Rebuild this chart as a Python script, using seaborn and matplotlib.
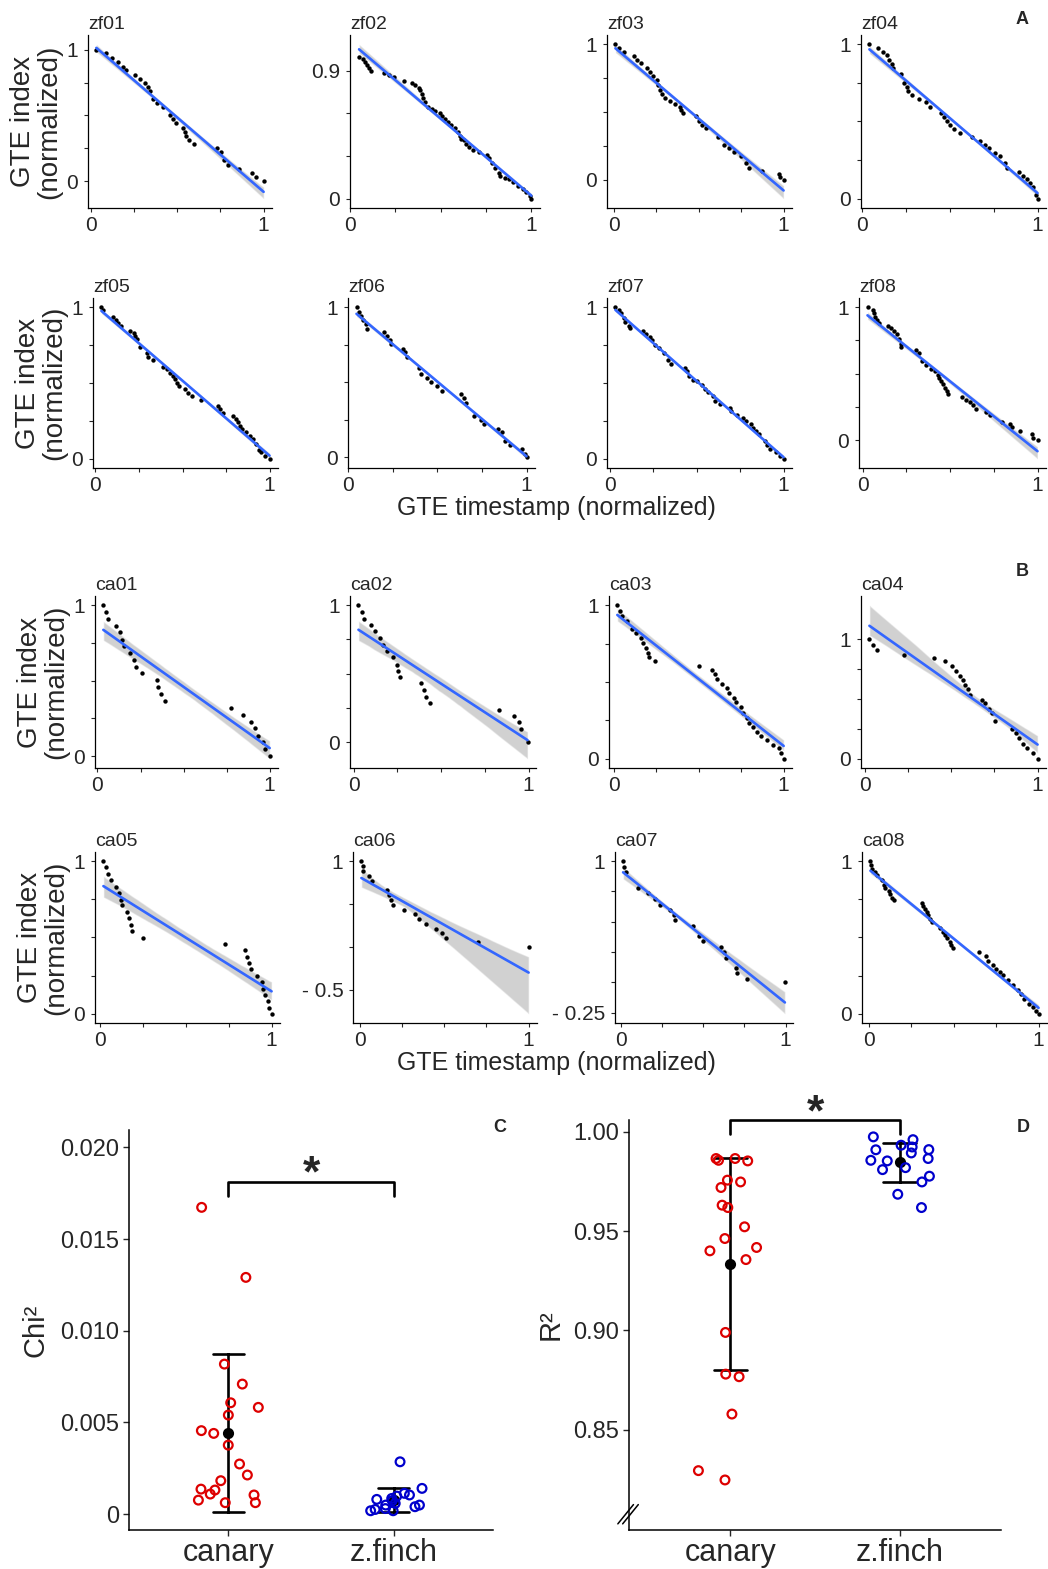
import numpy as np
import pandas as pd
import matplotlib
matplotlib.use("Agg")
import matplotlib.pyplot as plt
import seaborn as sns
from matplotlib.collections import PolyCollection

# ---- A: zebra finch songs, GTE timestamp vs GTE index (normalized) ----
zf01_x = [0.032, 0.086, 0.12, 0.156, 0.187, 0.204, 0.257, 0.282, 0.314, 0.333, 0.343, 0.358, 0.381, 0.419, 0.457,
          0.476, 0.491, 0.533, 0.543, 0.552, 0.568, 0.596, 0.728, 0.752, 0.771, 0.796, 0.857, 0.93, 0.956, 1.0]
zf01_y = [1.0, 0.971, 0.934, 0.904, 0.872, 0.843, 0.811, 0.779, 0.749, 0.72, 0.688, 0.627, 0.597, 0.565, 0.504,
          0.474, 0.442, 0.405, 0.373, 0.344, 0.312, 0.283, 0.253, 0.221, 0.16, 0.123, 0.091, 0.061, 0.032, 0.0]
zf02_x = [0.05, 0.072, 0.081, 0.094, 0.105, 0.117, 0.189, 0.216, 0.243, 0.297, 0.342, 0.36, 0.378, 0.387, 0.396,
          0.405, 0.414, 0.432, 0.45, 0.468, 0.495, 0.508, 0.523, 0.541, 0.559, 0.577, 0.595, 0.604, 0.613, 0.627,
          0.64, 0.658, 0.676, 0.712, 0.757, 0.766, 0.784, 0.802, 0.82, 0.829, 0.856, 0.874, 0.901, 0.928, 0.955,
          0.973, 0.991, 1.0]
zf02_y = [1.0, 0.984, 0.961, 0.939, 0.92, 0.9, 0.884, 0.87, 0.854, 0.827, 0.813, 0.797, 0.779, 0.763, 0.74,
          0.706, 0.683, 0.649, 0.633, 0.62, 0.604, 0.581, 0.558, 0.542, 0.519, 0.501, 0.467, 0.444, 0.421, 0.41,
          0.387, 0.364, 0.346, 0.33, 0.308, 0.285, 0.251, 0.216, 0.178, 0.159, 0.148, 0.137, 0.118, 0.091, 0.068,
          0.046, 0.018, 0.0]
zf03_x = [0.01, 0.029, 0.058, 0.117, 0.136, 0.159, 0.198, 0.214, 0.233, 0.252, 0.262, 0.272, 0.282, 0.301, 0.33,
          0.359, 0.388, 0.398, 0.408, 0.485, 0.501, 0.52, 0.544, 0.612, 0.65, 0.68, 0.709, 0.748, 0.777, 0.796,
          0.874, 0.971, 0.981, 1.0]
zf03_y = [1.0, 0.976, 0.941, 0.91, 0.887, 0.863, 0.823, 0.799, 0.768, 0.74, 0.697, 0.664, 0.634, 0.603, 0.579,
          0.556, 0.539, 0.515, 0.492, 0.468, 0.433, 0.404, 0.381, 0.314, 0.255, 0.232, 0.208, 0.173, 0.125, 0.09,
          0.066, 0.043, 0.019, 0.0]
zf04_x = [0.042, 0.092, 0.117, 0.142, 0.155, 0.168, 0.179, 0.221, 0.24, 0.255, 0.262, 0.287, 0.325, 0.362, 0.387,
          0.447, 0.466, 0.485, 0.5, 0.523, 0.56, 0.626, 0.674, 0.698, 0.726, 0.755, 0.787, 0.815, 0.825, 0.896,
          0.915, 0.938, 0.957, 0.975, 0.989, 1.0]
zf04_y = [1.0, 0.975, 0.949, 0.928, 0.9, 0.873, 0.847, 0.805, 0.752, 0.725, 0.699, 0.672, 0.646, 0.625, 0.597,
          0.555, 0.53, 0.504, 0.477, 0.449, 0.424, 0.398, 0.371, 0.345, 0.328, 0.297, 0.275, 0.233, 0.201, 0.174,
          0.148, 0.127, 0.102, 0.074, 0.021, 0.0]
zf05_x = [0.034, 0.044, 0.101, 0.118, 0.128, 0.147, 0.196, 0.219, 0.229, 0.238, 0.257, 0.295, 0.299, 0.328, 0.39,
          0.41, 0.429, 0.444, 0.457, 0.467, 0.482, 0.514, 0.533, 0.552, 0.606, 0.701, 0.714, 0.733, 0.79, 0.806,
          0.819, 0.829, 0.844, 0.867, 0.89, 0.905, 0.924, 0.939, 0.952, 0.971, 1.0]
zf05_y = [1.0, 0.983, 0.936, 0.915, 0.898, 0.877, 0.845, 0.83, 0.809, 0.791, 0.738, 0.696, 0.674, 0.653, 0.604,
          0.589, 0.568, 0.547, 0.526, 0.498, 0.477, 0.462, 0.434, 0.413, 0.391, 0.349, 0.328, 0.302, 0.285, 0.264,
          0.243, 0.217, 0.196, 0.174, 0.153, 0.132, 0.1, 0.057, 0.043, 0.021, 0.0]
zf06_x = [0.046, 0.061, 0.07, 0.08, 0.099, 0.103, 0.198, 0.217, 0.236, 0.242, 0.305, 0.318, 0.331, 0.394, 0.408,
          0.442, 0.465, 0.495, 0.528, 0.632, 0.651, 0.661, 0.705, 0.747, 0.762, 0.842, 0.861, 0.88, 0.909, 0.975,
          0.99, 1.0]
zf06_y = [1.0, 0.968, 0.942, 0.914, 0.886, 0.855, 0.832, 0.806, 0.778, 0.752, 0.719, 0.698, 0.665, 0.594, 0.551,
          0.525, 0.499, 0.471, 0.443, 0.417, 0.391, 0.363, 0.276, 0.248, 0.222, 0.19, 0.168, 0.11, 0.082, 0.054,
          0.02, 0.0]
zf07_x = [0.032, 0.052, 0.065, 0.08, 0.09, 0.109, 0.115, 0.191, 0.21, 0.233, 0.242, 0.261, 0.281, 0.309, 0.332,
          0.351, 0.433, 0.443, 0.458, 0.481, 0.5, 0.529, 0.548, 0.567, 0.595, 0.605, 0.634, 0.691, 0.7, 0.729,
          0.767, 0.782, 0.815, 0.824, 0.84, 0.859, 0.891, 0.905, 0.92, 0.958, 0.977, 1.0]
zf07_y = [1.0, 0.983, 0.962, 0.93, 0.902, 0.877, 0.864, 0.845, 0.823, 0.802, 0.781, 0.753, 0.732, 0.696, 0.653,
          0.626, 0.6, 0.579, 0.547, 0.519, 0.511, 0.489, 0.462, 0.44, 0.413, 0.383, 0.362, 0.334, 0.313, 0.291,
          0.27, 0.249, 0.228, 0.206, 0.185, 0.164, 0.115, 0.089, 0.064, 0.047, 0.021, 0.0]
zf08_x = [0.027, 0.058, 0.066, 0.071, 0.081, 0.09, 0.143, 0.162, 0.181, 0.193, 0.206, 0.216, 0.22, 0.303, 0.322,
          0.341, 0.36, 0.389, 0.412, 0.428, 0.437, 0.447, 0.457, 0.47, 0.482, 0.489, 0.566, 0.592, 0.611, 0.63,
          0.649, 0.707, 0.726, 0.798, 0.842, 0.855, 0.9, 0.967, 0.977, 1.0]
zf08_y = [1.0, 0.976, 0.953, 0.929, 0.9, 0.877, 0.858, 0.841, 0.818, 0.794, 0.763, 0.723, 0.699, 0.675, 0.652,
          0.597, 0.564, 0.533, 0.517, 0.493, 0.469, 0.445, 0.422, 0.391, 0.367, 0.344, 0.327, 0.303, 0.284, 0.261,
          0.232, 0.209, 0.185, 0.137, 0.118, 0.095, 0.071, 0.047, 0.019, 0.0]

# ---- B: canary songs ----
ca01_x = [0.034, 0.048, 0.061, 0.11, 0.128, 0.143, 0.152, 0.19, 0.21, 0.225, 0.257, 0.343, 0.352, 0.371, 0.394,
          0.777, 0.844, 0.891, 0.914, 0.93, 0.962, 0.971, 1.0]
ca01_y = [1.0, 0.952, 0.909, 0.865, 0.82, 0.772, 0.728, 0.685, 0.637, 0.591, 0.548, 0.504, 0.457, 0.409, 0.365,
          0.322, 0.276, 0.228, 0.185, 0.137, 0.091, 0.048, 0.0]
ca02_x = [0.028, 0.047, 0.061, 0.097, 0.124, 0.152, 0.171, 0.193, 0.227, 0.246, 0.254, 0.268, 0.384, 0.401, 0.414,
          0.434, 0.829, 0.917, 0.948, 0.959, 0.994]
ca02_y = [1.0, 0.954, 0.897, 0.857, 0.809, 0.759, 0.713, 0.667, 0.621, 0.563, 0.517, 0.476, 0.43, 0.379, 0.333,
          0.287, 0.237, 0.191, 0.145, 0.097, 0.0]
ca03_x = [0.02, 0.034, 0.048, 0.076, 0.104, 0.132, 0.16, 0.174, 0.188, 0.202, 0.207, 0.244, 0.504, 0.58, 0.594,
          0.608, 0.636, 0.664, 0.678, 0.706, 0.72, 0.748, 0.762, 0.784, 0.798, 0.818, 0.84, 0.868, 0.902, 0.936,
          0.972, 0.986, 1.0]
ca03_y = [1.0, 0.964, 0.932, 0.9, 0.848, 0.816, 0.785, 0.753, 0.722, 0.69, 0.662, 0.637, 0.605, 0.578, 0.553,
          0.521, 0.489, 0.458, 0.426, 0.395, 0.367, 0.338, 0.3, 0.268, 0.236, 0.205, 0.173, 0.146, 0.12, 0.093,
          0.068, 0.036, 0.0]
ca04_x = [0.028, 0.047, 0.069, 0.228, 0.403, 0.467, 0.508, 0.528, 0.55, 0.569, 0.583, 0.597, 0.611, 0.681, 0.694,
          0.717, 0.736, 0.756, 0.853, 0.875, 0.894, 0.917, 0.939, 0.972, 1.0]
ca04_y = [1.0, 0.949, 0.911, 0.873, 0.843, 0.815, 0.78, 0.739, 0.696, 0.658, 0.62, 0.582, 0.532, 0.494, 0.468,
          0.418, 0.38, 0.316, 0.253, 0.215, 0.177, 0.127, 0.089, 0.051, 0.0]
ca05_x = [0.021, 0.037, 0.048, 0.068, 0.093, 0.112, 0.122, 0.131, 0.156, 0.17, 0.18, 0.189, 0.251, 0.73, 0.846,
          0.855, 0.871, 0.878, 0.917, 0.942, 0.952, 0.961, 0.981, 0.986, 1.0]
ca05_y = [1.0, 0.96, 0.917, 0.875, 0.833, 0.79, 0.748, 0.71, 0.667, 0.625, 0.583, 0.54, 0.498, 0.46, 0.417,
          0.375, 0.333, 0.292, 0.25, 0.208, 0.165, 0.123, 0.081, 0.038, 0.0]
ca06_x = [0.01, 0.02, 0.02, 0.055, 0.07, 0.16, 0.175, 0.185, 0.2, 0.26, 0.33, 0.35, 0.39, 0.45, 0.49, 0.51, 0.7, 1.0]
ca06_y = [1.0, 0.944, 0.89, 0.825, 0.77, 0.66, 0.61, 0.55, 0.49, 0.43, 0.38, 0.325, 0.27, 0.21, 0.156, 0.1, 0.05, 0.0]
ca07_x = [0.014, 0.022, 0.034, 0.106, 0.164, 0.206, 0.236, 0.3, 0.32, 0.33, 0.436, 0.476, 0.496, 0.61, 0.624,
          0.64, 0.7, 0.704, 0.766, 0.996]
ca07_y = [1.0, 0.953, 0.907, 0.777, 0.733, 0.689, 0.642, 0.596, 0.557, 0.513, 0.466, 0.378, 0.337, 0.293, 0.249,
          0.202, 0.119, 0.073, 0.026, 0.0]
ca08_x = [0.01, 0.014, 0.019, 0.039, 0.049, 0.078, 0.088, 0.097, 0.117, 0.127, 0.136, 0.146, 0.312, 0.322, 0.331,
          0.341, 0.351, 0.361, 0.37, 0.419, 0.439, 0.448, 0.458, 0.478, 0.487, 0.497, 0.649, 0.692, 0.702, 0.731,
          0.75, 0.77, 0.789, 0.819, 0.848, 0.877, 0.897, 0.916, 0.945, 0.965, 0.984, 1.0]
ca08_y = [1.0, 0.973, 0.951, 0.93, 0.909, 0.877, 0.846, 0.825, 0.803, 0.782, 0.761, 0.744, 0.725, 0.708, 0.687,
          0.666, 0.645, 0.624, 0.603, 0.564, 0.539, 0.518, 0.497, 0.471, 0.45, 0.429, 0.402, 0.381, 0.349, 0.323,
          0.296, 0.275, 0.254, 0.222, 0.19, 0.159, 0.127, 0.095, 0.063, 0.042, 0.021, 0.0]

# ---- C / D: goodness of fit per song ----
canary_chi2 = [0.01673, 0.01291, 0.00818, 0.00709, 0.00582, 0.00607, 0.0054, 0.00455, 0.0044, 0.00376,
               0.00273, 0.00213, 0.00182, 0.00136, 0.00131, 0.00104, 0.00109, 0.00062, 0.00062, 0.00076]
zfinch_chi2 = [0.00285, 0.0014, 0.0008, 0.00098, 0.00049, 0.00018, 0.00058, 0.00104, 0.00113, 0.00085,
               0.00025, 0.00018, 0.00049, 0.00073, 0.0003, 0.0004]
canary_r2 = [0.9854, 0.9857, 0.9866, 0.9866, 0.9757, 0.972, 0.9748, 0.9631, 0.9619, 0.9522, 0.9463, 0.9418,
             0.9401, 0.9357, 0.899, 0.878, 0.8767, 0.8579, 0.8247, 0.8294]
zfinch_r2 = [0.9975, 0.9961, 0.9933, 0.9924, 0.9911, 0.9894, 0.9857, 0.9854, 0.982, 0.981, 0.9777, 0.9866,
             0.9748, 0.9686, 0.9619, 0.991]
groups = ["canary", "z.finch"]

panels = [("zf01", zf01_x, zf01_y), ("zf02", zf02_x, zf02_y), ("zf03", zf03_x, zf03_y), ("zf04", zf04_x, zf04_y),
          ("zf05", zf05_x, zf05_y), ("zf06", zf06_x, zf06_y), ("zf07", zf07_x, zf07_y), ("zf08", zf08_x, zf08_y),
          ("ca01", ca01_x, ca01_y), ("ca02", ca02_x, ca02_y), ("ca03", ca03_x, ca03_y), ("ca04", ca04_x, ca04_y),
          ("ca05", ca05_x, ca05_y), ("ca06", ca06_x, ca06_y), ("ca07", ca07_x, ca07_y), ("ca08", ca08_x, ca08_y)]

# y ticks: only the two end ticks get a label
default_yticks = ([0, 0.25, 0.5, 0.75, 1], "0", "1")
special_yticks = {"zf02": ([0, 0.3, 0.6, 0.9], "0", "0.9"),
                  "ca06": ([-0.5, 0, 0.5, 1], "- 0.5", "1"),
                  "ca07": ([-0.25, 0, 0.25, 0.5, 0.75, 1], "- 0.25", "1")}

sns.set_style("white")
plt.rcParams["font.family"] = ["Liberation Sans", "DejaVu Sans"]

W, H = 1048, 1569
fig = plt.figure(figsize=(W / 100, H / 100), dpi=100)

# panel boxes in pixels: (left, right) per column, (top, bottom) per row
col_span = [[(88, 272), (350, 540), (607, 792), (861, 1046)],
            [(93, 278), (348, 535), (607, 792), (859, 1046)],
            [(95, 278), (350, 536), (609, 792), (861, 1046)],
            [(95, 280), (353, 537), (615, 793), (862, 1047)]]
row_span = [(35, 208), (298, 468), (596, 768), (852, 1023)]


def style_axes(ax, lw=0.9):
    sns.despine(ax=ax)
    for s in ("left", "bottom"):
        ax.spines[s].set_color("black")
        ax.spines[s].set_linewidth(lw)


for i, (name, xs, ys) in enumerate(panels):
    r, c = divmod(i, 4)
    (l, rt), (t, b) = col_span[r][c], row_span[r]
    ax = fig.add_axes([l / W, 1 - b / H, (rt - l) / W, (b - t) / H])
    df = pd.DataFrame({"timestamp": xs, "index": ys})
    sns.regplot(data=df, x="timestamp", y="index", ax=ax, color="black", seed=1, n_boot=1000,
                scatter_kws={"s": 10, "linewidths": 0, "alpha": 1, "zorder": 1.5},
                line_kws={"color": "#3366FF", "linewidth": 1.9})
    for coll in ax.collections:
        if isinstance(coll, PolyCollection):
            coll.set_facecolor("#999999")
            coll.set_alpha(0.45)
            coll.set_zorder(1)

    # ggplot-like expansion around data + fit
    x0, x1 = min(xs), max(xs)
    ax.set_xlim(x0 - 0.05 * (x1 - x0), x1 + 0.05 * (x1 - x0))
    y0, y1 = ax.dataLim.intervaly
    pad = 0.06 * (y1 - y0)
    lo, hi = y0 - pad, y1 + pad
    ticks, lab_lo, lab_hi = special_yticks.get(name, default_yticks)
    lo = min(lo, ticks[0] - 0.03 * (hi - lo))
    ax.set_ylim(lo, hi)
    ax.set_yticks(ticks)
    ax.set_yticklabels([lab_lo] + [""] * (len(ticks) - 2) + [lab_hi])
    ax.set_xticks([0, 0.25, 0.5, 0.75, 1])
    ax.set_xticklabels(["0", "", "", "", "1"])
    ax.tick_params(direction="out", length=3, width=0.8, labelsize=15, left=True, bottom=True)
    ax.tick_params(axis="y", pad=4)
    ax.tick_params(axis="x", pad=3)
    ax.set_xlabel("")
    ax.set_ylabel("")
    if c == 0:
        ax.set_ylabel("GTE index\n(normalized)", fontsize=20, labelpad=3, linespacing=1.0)
    ax.set_title(name, loc="left", fontsize=14, pad=4)
    style_axes(ax)

fig.text(556 / W, 1 - 508 / H, "GTE timestamp (normalized)", ha="center", va="center", fontsize=18)
fig.text(556 / W, 1 - 1063 / H, "GTE timestamp (normalized)", ha="center", va="center", fontsize=18)

# ---- C and D: jittered open circles with mean +/- SD ----
palette = {"canary": "#dd0000", "z.finch": "#0000cc"}
np.random.seed(7)


def group_panel(ax, canary_vals, zfinch_vals, ylabel, labelpad):
    df = pd.DataFrame({"group": ["canary"] * len(canary_vals) + ["z.finch"] * len(zfinch_vals),
                       "value": canary_vals + zfinch_vals})
    sns.stripplot(data=df, x="group", y="value", hue="group", order=groups, palette=palette,
                  jitter=0.19, size=6.3, legend=False, ax=ax)
    for coll in ax.collections:
        fc = coll.get_facecolors()
        coll.set_edgecolors(fc)
        coll.set_facecolors("none")
        coll.set_linewidths(1.6)
    sns.pointplot(data=df, x="group", y="value", order=groups, errorbar="sd", color="black",
                  linestyle="none", capsize=0.19, markersize=6, err_kws={"linewidth": 1.9}, ax=ax)
    ax.set_xlim(-0.6, 1.6)
    ax.set_xlabel("")
    ax.set_ylabel(ylabel, fontsize=21, labelpad=labelpad)
    ax.tick_params(axis="y", direction="out", length=4, width=1, labelsize=17, left=True, pad=3)
    ax.tick_params(axis="x", direction="out", length=4, width=1, labelsize=22, bottom=True, pad=2)
    style_axes(ax, lw=1.1)


axC = fig.add_axes([129 / W, 1 - 1530 / H, (493 - 129) / W, (1530 - 1130) / H])
group_panel(axC, canary_chi2, zfinch_chi2, "Chi²", 8)
axC.set_ylim(-0.00087, 0.02095)
axC.set_yticks([0, 0.005, 0.010, 0.015, 0.020])
axC.set_yticklabels(["0", "0.005", "0.010", "0.015", "0.020"])
axC.plot([0, 0, 1, 1], [0.01735, 0.01809, 0.01809, 0.01735], color="black", lw=1.9, clip_on=False)
axC.text(0.5, 0.0174, "*", ha="center", va="bottom", fontsize=32, fontweight="bold")

axD = fig.add_axes([629 / W, 1 - 1530 / H, (1001 - 629) / W, (1530 - 1120) / H])
group_panel(axD, canary_r2, zfinch_r2, "R²", 6)
axD.set_ylim(0.7995, 1.006)
axD.set_yticks([0.85, 0.90, 0.95, 1.00])
axD.set_yticklabels(["0.85", "0.90", "0.95", "1.00"])
axD.plot([0, 0, 1, 1], [0.9992, 1.0059, 1.0059, 0.9992], color="black", lw=1.9, clip_on=False)
axD.text(0.5, 0.9988, "*", ha="center", va="bottom", fontsize=32, fontweight="bold", clip_on=False)
# axis break mark
for dx in (0.0, 0.013):
    axD.plot([-0.03 + dx, 0.012 + dx], [0.015, 0.062], transform=axD.transAxes,
             color="black", lw=1.1, clip_on=False)

for letter, px, py in [("A", 1022, 20), ("B", 1022, 572), ("C", 500, 1127), ("D", 1023, 1128)]:
    fig.text(px / W, 1 - py / H, letter, ha="center", va="center", fontsize=13, fontweight="bold")

fig.savefig("out.png", dpi=100)
